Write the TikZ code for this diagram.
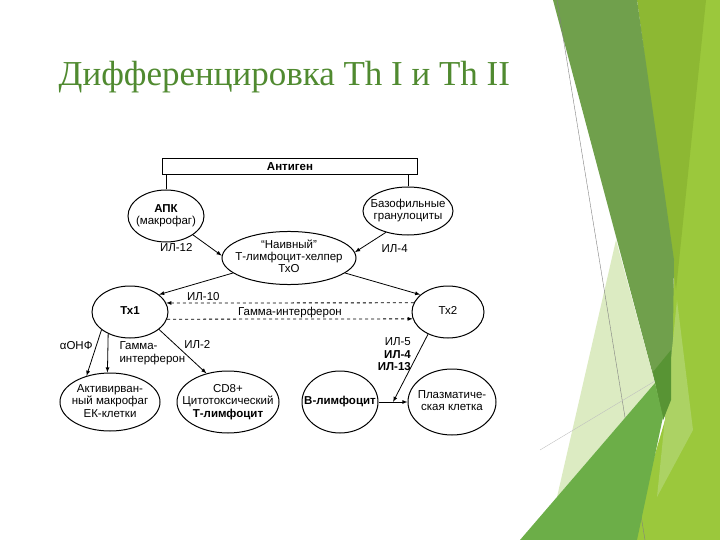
\documentclass[tikz,border=0pt]{standalone}
\usepackage{fontspec}
\setmainfont{Liberation Serif}
\setsansfont{Liberation Sans}
\usepackage{tikz}
\usetikzlibrary{%
  shapes.geometric,%
  arrows%
}
\definecolor{titlegreen}{RGB}{80,138,48}
\definecolor{bglight}{RGB}{155,200,60}
\definecolor{bgyellow}{RGB}{141,184,51}
\definecolor{bgdark}{RGB}{112,160,76}
\definecolor{bgdeep}{RGB}{88,148,52}
\definecolor{bgmid}{RGB}{108,174,72}
\definecolor{bgpale}{RGB}{220,235,194}
\definecolor{bgstrip}{RGB}{172,210,100}
\newcommand{\cellfont}{\sffamily\fontsize{11.5}{12.5}\selectfont}
\newcommand{\cellt}[1]{\makebox[0pt]{\begin{tabular}{@{}c@{}}#1\end{tabular}}}

\begin{document}
\begin{tikzpicture}[x=1pt, y=-1pt, >=latex, line width=0.8pt,
  every node/.style={font=\cellfont},
  cell/.style={ellipse, draw, line width=1pt, inner sep=0pt}]
\useasboundingbox (0,0) rectangle (720,540);

% slide decoration
\fill[bglight] (700,0) -- (720,0) -- (720,540) -- (630,540) -- (665,420) -- (675,260) -- cycle;
\fill[bgyellow] (637,0) -- (706,0) -- (676,290) -- cycle;
\fill[bgdark] (553,0) -- (637,0) -- (674,260) -- (672,400) -- (663,420) -- (655,383) -- cycle;
\fill[bgpale] (616,240) -- (655,383) -- (557,497) -- cycle;
\fill[bgstrip] (677,300) -- (693,430) -- (657,497) -- cycle;
\fill[bgdeep] (653,372) -- (671,350) -- (671,400) -- (663,420) -- cycle;
\draw[gray, line width=0.4pt] (557,0) -- (645,540);
\draw[black!25, line width=0.4pt] (540,450) -- (655,381);
\fill[bgmid] (520,540) -- (655,383) -- (663,417) -- (637,540) -- cycle;

% title
\node[anchor=base west, font=\rmfamily\fontsize{35}{40}\selectfont, text=titlegreen]
  (title) at (55,86) {Дифференцировка Th I и Th II};

% cells
\node[draw, line width=1pt, minimum width=255, minimum height=16, inner sep=0pt,
  font=\cellfont\bfseries] (ag) at (290,167) {Антиген};
\node[cell, minimum width=76, minimum height=52] (apk) at (166,216) {\cellt{\textbf{АПК}\\(макрофаг)}};
\node[cell, minimum width=90, minimum height=48] (baso) at (408,211) {\cellt{Базофильные\\гранулоциты}};
\node[cell, minimum width=134, minimum height=52] (th0) at (289,258) {\cellt{“Наивный”\\Т-лимфоцит-хелпер\\ТхО}};
\node[cell, minimum width=76, minimum height=52] (th1) at (130,312) {\cellt{\textbf{Тх1}}};
\node[cell, minimum width=72, minimum height=52] (th2) at (448,312) {\cellt{Тх2}};
\node[cell, minimum width=100, minimum height=58] (mac) at (110,402) {\cellt{Активирван-\\ный макрофаг\\ЕК-клетки}};
\node[cell, minimum width=102, minimum height=62] (cd8) at (228,402) {\cellt{CD8+\\Цитотоксический\\\textbf{Т-лимфоцит}}};
\node[cell, minimum width=76, minimum height=62] (bl) at (340,402) {\cellt{\textbf{В-лимфоцит}}};
\node[cell, minimum width=88, minimum height=66] (pl) at (452,402) {\cellt{Плазматиче-\\ская клетка}};
\coordinate (join) at (393,402);

\draw (apk.north) -- (apk.north |- ag.south);
\draw (baso.north) -- (baso.north |- ag.south);

\draw
	(apk.-35) edge[->] node[pos=0.25, anchor=north east, xshift=-4pt]{ИЛ-12} (th0.178)
	(baso.-136) edge[->] node[pos=0.45, anchor=north west, xshift=6pt]{ИЛ-4} (th0.5)
	(th0.195) edge[->] node[pos=0.4, below=7pt]{ИЛ-10} (th1.31)
	(th0.-15) edge[->] (th2.148)
	(th2.165) edge[->, dashed] (th1.14)
	(th1.-11) edge[->, dashed] node[midway, above, inner sep=1pt]{Гамма-интерферон} (th2.191)
	(th1.212) edge[->] node[pos=0.35, left]{αОНФ} (mac.132)
	(th1.225) edge[->] node[midway, right=8pt, align=left]{Гамма-\\интерферон} (mac.95)
	(th1.-31) edge[->] node[pos=0.35, right=5pt]{ИЛ-2} (cd8.127)
	(bl.east) edge[->] (pl.west)
	(th2.228) edge[->] node[pos=0.3, left=3pt, align=right]{ИЛ-5\\\textbf{ИЛ-4}\\\textbf{ИЛ-13}} (join)
;
\end{tikzpicture}
\end{document}
